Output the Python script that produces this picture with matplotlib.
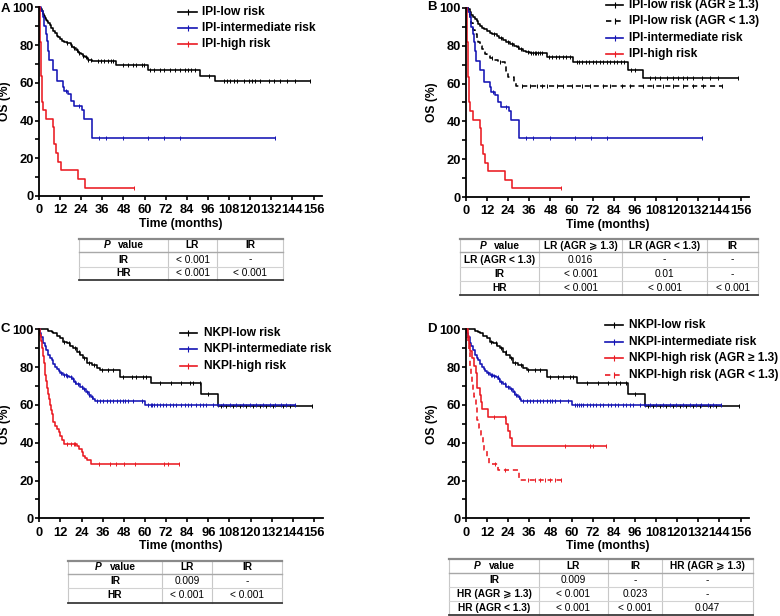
import numpy as np
import matplotlib
matplotlib.use('Agg')
import matplotlib.pyplot as plt
from matplotlib.lines import Line2D

plt.rcParams['font.family'] = ['Liberation Sans', 'DejaVu Sans']

# ---------------- data ----------------
# IPI-low risk (panel A)
ipi_low_t = [0.5, 1.0, 1.5, 2.0, 2.5, 3.0, 3.5, 4.0, 4.5, 5.0, 6.0, 7.0, 8.0, 9.0, 10.0, 11.0, 12.0, 13.0, 14.0,
             16.0, 18.0, 19.0, 20.0, 21.0, 22.0, 23.0, 24.0, 25.0, 26.0, 27.0, 28.0, 30.0, 43.8, 61.8, 91.6, 100.2]
ipi_low_s = [99.5, 99.0, 98.0, 97.5, 96.5, 95.5, 94.5, 93.5, 92.5, 91.5, 90.5, 89.0, 87.5, 86.2, 85.0, 84.0, 83.0, 82.0, 81.5,
             81.0, 80.0, 79.0, 78.3, 77.5, 76.5, 75.6, 75.0, 74.2, 73.5, 73.0, 72.3, 71.4, 69.2, 66.8, 63.6, 60.7]
ipi_low_c = [16, 18, 20, 21.5, 23, 25, 26.5, 28, 29.5, 33.4, 35.3, 37.2, 39.1, 41, 42.3, 47.6, 50.5, 53.3, 55.2, 58.6,
             59.6, 62.8, 65.6, 68.5, 71.3, 74.2, 77, 79.9, 82.7, 84.5, 86.5, 88.5, 96.4, 104.9, 106.8, 108.7, 110.6,
             112.5, 116.3, 119.1, 121, 122.9, 125.7, 130.5, 133.3, 137.1, 140.9, 145.6, 154.2]

# IPI-intermediate risk (panels A, B)
ipi_int_t = [1.0, 2.0, 3.0, 4.0, 4.5, 5.0, 5.8, 7.8, 10.0, 13.5, 14.4, 16.3, 18.2, 20.0, 24.4, 25.5, 30.2]
ipi_int_s = [98, 95, 90, 86, 82, 77, 72, 67, 61, 58, 55.7, 54, 50.5, 47.5, 45.5, 41, 31]
ipi_int_c = [15.5, 23, 34.3, 38.1, 48, 61.9, 71.3, 79.9, 134]

# IPI-high risk (panels A, B)
ipi_high_t = [0.3, 0.6, 0.9, 1.2, 1.6, 2.5, 4.0, 8.0, 8.3, 8.6, 9.7, 10.6, 12.5, 22.0, 26.4]
ipi_high_s = [90.9, 81.8, 72.7, 63.6, 50.0, 45.5, 40.9, 36.4, 31.8, 27.3, 22.7, 18.2, 13.6, 9.1, 4.5]
ipi_high_c = [54.0]

# IPI-low risk, AGR >= 1.3 (panel B)
b_hi_t = [1, 2, 3, 4, 5, 6, 7, 8, 9, 10, 12, 13.6, 15, 17.4, 19, 21, 23, 25, 27, 28.8, 30, 32.6, 34, 36.4,
          45.8, 61.0, 92.2, 100.8]
b_hi_s = [99.5, 98, 96.5, 95, 94, 93, 91.5, 90.5, 89.5, 89, 88, 87, 86, 85, 84, 83, 82, 81, 80, 79.5, 78.5, 77.3,
          76.5, 76, 74.1, 71.2, 67.3, 63.2]
b_hi_c = [16, 20, 24, 26, 29.5, 31, 35, 37, 38, 39, 40, 41, 42, 43, 47, 49, 51, 53, 55, 57, 59, 63, 64, 66, 68, 70,
          72, 74, 76, 78, 80, 82, 84, 86, 88, 90, 94, 96, 104.5, 107.4, 110.2, 114, 117.8, 120.6, 123.5, 125.4,
          129.2, 133.9, 138.6, 143.4, 154.7]

# IPI-low risk, AGR < 1.3 (panel B)
b_lo_t = [1, 2, 3, 4, 5, 6, 7, 8, 9, 10, 11, 12, 13.5, 16, 18, 22, 23, 24, 27, 28.5]
b_lo_s = [97, 95, 92, 88.4, 86, 84, 82, 80, 78.5, 77, 75.5, 74.5, 73.4, 72.5, 71.6, 69.8, 66.5, 63.7, 61, 58.7]
b_lo_c = [14.5, 19.5, 31.6, 36.4, 40.2, 43, 45.8, 51.5, 55.3, 60, 65.7, 70.5, 78, 81.8, 88.4, 93.2, 100.8, 106.4,
          112.1, 117.8, 123.5, 129.2, 134.8, 145.3]

# NKPI-low risk (panels C, D)
nk_low_t = [5.0, 7.0, 8.0, 9.8, 11.7, 13.6, 15.5, 17.4, 19.3, 21.2, 23.0, 25.0, 26.9, 29.7, 32.5, 34.4, 45.8,
            63.2, 92.1, 101.5]
nk_low_s = [99.3, 98.6, 97.9, 96.5, 95.2, 93.5, 92.6, 91.2, 90.0, 88.2, 86.4, 84.7, 82.0, 81.1, 79.4, 78.5, 74.6,
            71.8, 65.8, 59.4]
nk_low_c = [14, 17, 20, 22.5, 25.5, 28, 31, 35.4, 39.1, 42, 47.7, 52.4, 55.2, 59, 60.9, 68.5, 75.1, 80.7, 85.5,
            87.4, 91.1, 95.9, 103.4, 106.3, 110.1, 113.8, 117.6, 121.4, 125.2, 129, 132.8, 138.4, 142.2, 154.9]

# NKPI-intermediate risk (panels C, D)
nk_int_t = [0.5, 1.0, 2.0, 3.0, 4.0, 5.0, 6.0, 7.0, 8.0, 9.0, 10.0, 11.0, 12.0, 13.6, 15.5, 17.0, 18.3, 19.5,
            21.0, 23.0, 25.0, 26.5, 28.0, 29.5, 30.5, 31.5, 60.0]
nk_int_s = [98, 96, 93, 91, 89, 86.5, 85, 83.8, 81.5, 80, 78.8, 77.8, 77, 76, 75.3, 74.5, 73.5, 72.3,
            71, 69.5, 68.2, 66.8, 65.5, 64, 63, 62.2, 59.9]
nk_int_c = [12.5, 14, 15, 16, 18, 19, 20, 22, 24, 25.5, 27, 28.5, 30, 32.5, 34.4, 36.3, 38.2, 40.1, 42, 43.9, 45.8,
            47.7, 48.6, 50.5, 53.3, 58.1, 61.8, 63.2, 64.3, 65.4, 66.6, 68.5, 70.3, 72.2, 74.1, 76, 77.9, 80.7,
            82.6, 84.5, 86.4, 89.2, 91.1, 93, 94.9, 98.7, 101.6, 104.4, 108.2, 112, 115.7, 119.5, 123.3, 127.1,
            130.9, 133.7, 137.5, 140.3, 145]

# NKPI-high risk (panel C)
nk_hi_t = [0.5, 1.0, 1.5, 2.0, 2.5, 3.0, 3.5, 4.0, 4.5, 5.0, 5.5, 6.0, 6.5, 7.0, 7.5, 8.0, 9.0, 10.0, 11.0,
           12.0, 13.0, 14.0, 21.5, 22.5, 24.0, 25.0, 26.0, 27.0, 29.5]
nk_hi_s = [97, 94, 90, 86, 82, 79, 76, 72.5, 69, 66, 63, 60, 57.5, 55, 53, 51, 49, 47.5, 45.5,
           43.5, 41.5, 39.3, 38, 36.5, 35, 33, 31.8, 30.8, 28.6]
nk_hi_c = [16, 18, 19.5, 20.5, 34.2, 39.9, 43.3, 48.4, 54.5, 71.1, 73, 79.6]

# NKPI-high risk, AGR >= 1.3 (panel D)
d_hi_t = [1.0, 1.5, 2.5, 3.5, 4.5, 5.5, 6.0, 7.9, 8.4, 8.9, 12.5, 22.5, 24.0, 25.0, 26.2]
d_hi_s = [96.2, 92.3, 88.5, 84.6, 80.8, 76.9, 69.2, 65.4, 61.5, 57.7, 53.8, 50.0, 46.2, 42.3, 38.5]
d_hi_c = [16, 22, 56, 70.3, 72.2, 79.4]

# NKPI-high risk, AGR < 1.3 (panel D)
d_lo_t = [0.5, 1.0, 1.5, 2.0, 2.5, 3.0, 3.5, 4.0, 4.5, 5.5, 6.0, 6.5, 7.5, 8.5, 9.5, 10.5, 12.0, 13.2, 18.1, 30.2]
d_lo_s = [96, 92, 88, 84, 80, 76, 72, 68, 64, 60, 56, 52, 48, 44, 40, 36, 32, 28.8, 25.6, 20.3]
d_lo_c = [16.5, 21.9, 35.2, 39, 41.8, 44.7, 47.5, 50.3, 54.1]

x_ticks = list(range(0, 157, 12))
y_ticks = [0, 20, 40, 60, 80, 100]

legA = ['IPI-low risk', 'IPI-intermediate risk', 'IPI-high risk']
legB = ['IPI-low risk (AGR ≥ 1.3)', 'IPI-low risk (AGR < 1.3)', 'IPI-intermediate risk', 'IPI-high risk']
legC = ['NKPI-low risk', 'NKPI-intermediate risk', 'NKPI-high risk']
legD = ['NKPI-low risk', 'NKPI-intermediate risk', 'NKPI-high risk (AGR ≥ 1.3)', 'NKPI-high risk (AGR < 1.3)']

tabA_cols = ['LR', 'IR']
tabA_rows = ['IR', 'HR']
tabA_vals = [['< 0.001', '-'], ['< 0.001', '< 0.001']]
tabB_cols = ['LR (AGR ⩾ 1.3)', 'LR (AGR < 1.3)', 'IR']
tabB_rows = ['LR (AGR < 1.3)', 'IR', 'HR']
tabB_vals = [['0.016', '-', '-'], ['< 0.001', '0.01', '-'], ['< 0.001', '< 0.001', '< 0.001']]
tabC_cols = ['LR', 'IR']
tabC_rows = ['IR', 'HR']
tabC_vals = [['0.009', '-'], ['< 0.001', '< 0.001']]
tabD_cols = ['LR', 'IR', 'HR (AGR ⩾ 1.3)']
tabD_rows = ['IR', 'HR (AGR ⩾ 1.3)', 'HR (AGR < 1.3)']
tabD_vals = [['0.009', '-', '-'], ['< 0.001', '0.023', '-'], ['< 0.001', '< 0.001', '0.047']]

# ---------------- styling ----------------
W, H = 780, 616
fig = plt.figure(figsize=(W / 100, H / 100), dpi=100)

BLACK = '#000000'
BLUE = '#1414b4'
RED = '#ea1a22'
DASH = (0, (3.2, 2.4))
FONT = ['Liberation Sans', 'DejaVu Sans']


def fx(px):
    return px / W


def fy(py):
    return 1 - py / H


def make_ax(left, right, top, bottom):
    ax = fig.add_axes([fx(left), fy(bottom), (right - left) / W, (bottom - top) / H])
    ax.set_xlim(0, (right - left) / 1.76)
    ax.set_ylim(0, 100)
    for s in ['top', 'right']:
        ax.spines[s].set_visible(False)
    for s in ['left', 'bottom']:
        ax.spines[s].set_linewidth(1.3)
    ax.set_xticks(x_ticks)
    ax.set_yticks(y_ticks)
    ax.set_yticks(range(10, 100, 20), minor=True)
    ax.tick_params(which='both', direction='out', length=3, width=1.2, labelsize=9.3)
    ax.tick_params(axis='x', pad=3)
    ax.tick_params(axis='y', pad=0.8)
    for lab in ax.get_xticklabels() + ax.get_yticklabels():
        lab.set_fontweight('bold')
    ax.set_xlabel('Time (months)', fontsize=8.7, fontweight='bold')
    ax.set_ylabel('OS (%)', fontsize=8.7, fontweight='bold')
    ax.xaxis.set_label_coords(0.5, -22 / (bottom - top))
    ax.yaxis.set_label_coords(-28 / (right - left), 0.5)
    return ax


def km(ax, t, s, c, color, ls='-'):
    t = np.asarray(t, float)
    s = np.asarray(s, float)
    c = np.asarray(c, float)
    end = max(c.max(), t.max())
    tt = np.concatenate([[0], t, [end]])
    ss = np.concatenate([[100], s, [s[-1]]])
    ax.step(tt, ss, where='post', color=color, lw=1.15, ls=ls, clip_on=False)
    idx = np.searchsorted(t, c, side='right')
    sv = np.concatenate([[100], s])[idx]
    ax.plot(c, sv, ls='none', marker='|', ms=3.2, mew=0.7, color=color, clip_on=False)


def legend(x1, x2, xt, ys, labels, colors, styles):
    for y, lab, col, st in zip(ys, labels, colors, styles):
        fig.add_artist(Line2D([fx(x1), fx(x2)], [fy(y), fy(y)], color=col, lw=1.2, ls=st))
        fig.add_artist(Line2D([fx((x1 + x2) / 2)], [fy(y)], color=col, marker='|', ms=4, mew=0.8))
        fig.text(fx(xt), fy(y), lab, fontsize=8.6, fontweight='bold', va='center', ha='left', family=FONT)


def table(xs, ys, cols, rows, vals):
    x0, x1 = xs[0], xs[-1]
    for x in xs:
        fig.add_artist(Line2D([fx(x), fx(x)], [fy(ys[0]), fy(ys[-1])], color='#c8c8c8', lw=0.8))
    for i, y in enumerate(ys):
        if i == 0:
            col, lw = '#8a8a8a', 1.6
        elif i == 1:
            col, lw = '#a8a8a8', 1.0
        elif i == len(ys) - 1:
            col, lw = '#3a3a3a', 1.3
        else:
            col, lw = '#d2d2d2', 0.8
        fig.add_artist(Line2D([fx(x0), fx(x1)], [fy(y), fy(y)], color=col, lw=lw))
    fs = 7.3
    yc = (ys[0] + ys[1]) / 2
    c0 = (xs[0] + xs[1]) / 2
    fig.text(fx(c0 - 13), fy(yc), 'P', fontsize=fs, fontweight='bold', style='italic', ha='right', va='center',
             family=FONT)
    fig.text(fx(c0 - 5.5), fy(yc), 'value', fontsize=fs, fontweight='bold', ha='left', va='center', family=FONT)
    for j, lab in enumerate(cols):
        fig.text(fx((xs[j + 1] + xs[j + 2]) / 2), fy(yc), lab, fontsize=fs, fontweight='bold', ha='center',
                 va='center', family=FONT)
    for i, (rlab, rv) in enumerate(zip(rows, vals)):
        yc = (ys[i + 1] + ys[i + 2]) / 2
        fig.text(fx(c0), fy(yc), rlab, fontsize=fs, fontweight='bold', ha='center', va='center', family=FONT)
        for j, v in enumerate(rv):
            fig.text(fx((xs[j + 1] + xs[j + 2]) / 2), fy(yc), v, fontsize=fs, ha='center', va='center',
                     family=FONT)


# ---------------- panel A ----------------
axA = make_ax(39, 322, 7.3, 196)
km(axA, ipi_low_t, ipi_low_s, ipi_low_c, BLACK)
km(axA, ipi_int_t, ipi_int_s, ipi_int_c, BLUE)
km(axA, ipi_high_t, ipi_high_s, ipi_high_c, RED)
legend(178, 197, 202, [12.3, 28.3, 43.7], legA, [BLACK, BLUE, RED], ['-', '-', '-'])
table([79, 168, 217, 283], [238.7, 252.3, 266.7, 280], tabA_cols, tabA_rows, tabA_vals)

# ---------------- panel B ----------------
axB = make_ax(466, 749, 8, 197)
km(axB, b_hi_t, b_hi_s, b_hi_c, BLACK)
km(axB, b_lo_t, b_lo_s, b_lo_c, BLACK, DASH)
km(axB, ipi_int_t, ipi_int_s, ipi_int_c, BLUE)
km(axB, ipi_high_t, ipi_high_s, ipi_high_c, RED)
legend(606, 623, 629.3, [5.3, 21, 37.7, 53.7], legB, [BLACK, BLACK, BLUE, RED], ['-', DASH, '-', '-'])
table([460, 539, 622, 707, 758], [239.3, 252.3, 266.7, 281, 295], tabB_cols, tabB_rows, tabB_vals)

# ---------------- panel C ----------------
axC = make_ax(39.3, 323, 329.3, 518.3)
km(axC, nk_low_t, nk_low_s, nk_low_c, BLACK)
km(axC, nk_int_t, nk_int_s, nk_int_c, BLUE)
km(axC, nk_hi_t, nk_hi_s, nk_hi_c, RED)
legend(180, 196.7, 204, [332.7, 349.3, 365.7], legC, [BLACK, BLUE, RED], ['-', '-', '-'])
table([68, 162, 212, 282], [560.7, 574, 588.3, 602.7], tabC_cols, tabC_rows, tabC_vals)

# ---------------- panel D ----------------
axD = make_ax(466, 749, 329.3, 518.3)
km(axD, nk_low_t, nk_low_s, nk_low_c, BLACK)
km(axD, nk_int_t, nk_int_s, nk_int_c, BLUE)
km(axD, d_hi_t, d_hi_s, d_hi_c, RED)
km(axD, d_lo_t, d_lo_s, d_lo_c, RED, DASH)
legend(605, 623.3, 629.3, [325, 341.7, 358.3, 375.3], legD, [BLACK, BLUE, RED, RED], ['-', '-', '-', DASH])
table([449, 539, 608, 662, 753], [559.3, 572.7, 586.7, 601, 615], tabD_cols, tabD_rows, tabD_vals)

# panel letters
for lab, x, y in [('A', 0.5, 8.5), ('B', 427, 7.5), ('C', 0.5, 329), ('D', 427, 329)]:
    fig.text(fx(x), fy(y), lab, fontsize=9.5, fontweight='bold', ha='left', va='center', family=FONT)

fig.savefig('out.png', dpi=100)
